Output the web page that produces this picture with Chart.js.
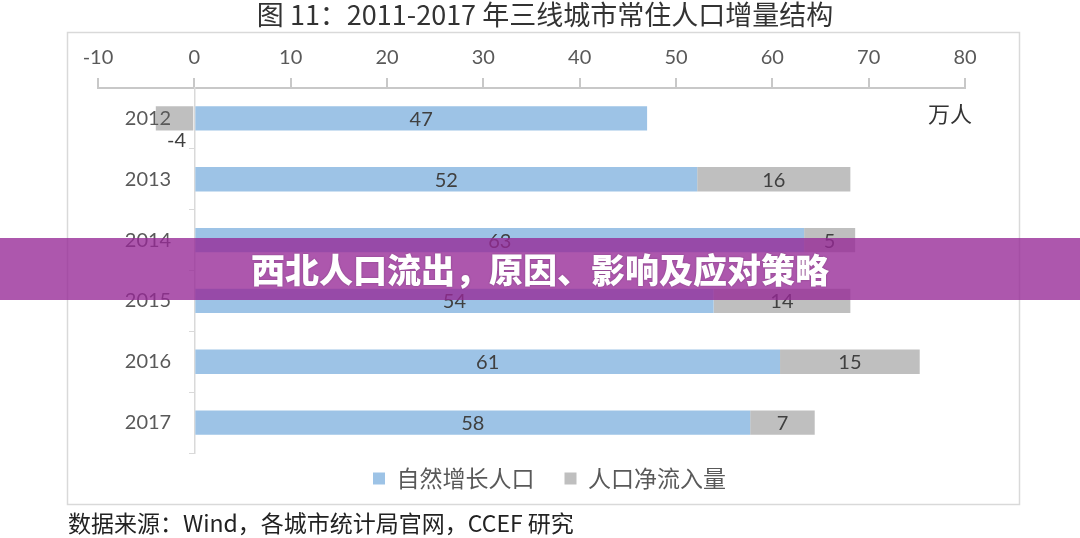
<!DOCTYPE html>
<html lang="zh">
<head>
    <meta charset="UTF-8">
    <title>三线城市常住人口增量结构</title>
    <script src="https://cdn.jsdelivr.net/npm/chart.js"></script>
    <style>
        html, body { margin: 0; padding: 0; background: #fff; }
        #wrap { width: 1080px; height: 538px; }
    </style>
</head>
<body>
    <div id="wrap"><canvas id="chart" width="1080" height="538"></canvas></div>

    <script>
        // 数据（万人，从图上读取）
        const years = ['2012', '2013', '2014', '2015', '2016', '2017'];
        const naturalGrowth = [47, 52.2, 63.3, 53.9, 60.8, 57.7];
        const netInflow = [-4, 15.9, 5.3, 14.2, 14.5, 6.7];
        const xTicks = [-10, 0, 10, 20, 30, 40, 50, 60, 70, 80];

        const NUM_FONT = "Lato, 'Noto Sans CJK SC', sans-serif";
        const CJK_FONT = "'Noto Sans CJK SC', 'Noto Sans', sans-serif";

        // 柱内数值标签
        const barLabels = {
            id: 'barLabels',
            afterDatasetsDraw(chart) {
                const ctx = chart.ctx;
                ctx.save();
                ctx.font = '20px ' + NUM_FONT;
                ctx.fillStyle = '#404040';
                ctx.textAlign = 'center';
                ctx.textBaseline = 'middle';
                chart.data.datasets.forEach((ds, i) => {
                    chart.getDatasetMeta(i).data.forEach((bar, j) => {
                        const txt = String(Math.round(ds.data[j]));
                        const w = Math.abs(bar.x - bar.base);
                        const cx = (bar.x + bar.base) / 2;
                        if (w < ctx.measureText(txt).width + 24) {
                            // 放不下时放到柱子下方
                            ctx.fillText(txt, cx + 2, bar.y + bar.height / 2 + 10);
                        } else {
                            ctx.fillText(txt, cx, bar.y + 1);
                        }
                    });
                });
                ctx.restore();
            }
        };

        // 边框、标题、单位、来源、横幅
        const decor = {
            id: 'decor',
            beforeDraw(chart) {
                const ctx = chart.ctx;
                ctx.save();
                ctx.fillStyle = '#fff';
                ctx.fillRect(0, 0, chart.width, chart.height);
                ctx.strokeStyle = '#d9d9d9';
                ctx.lineWidth = 1.5;
                ctx.strokeRect(67.5, 32.5, 952, 472);
                ctx.restore();
            },
            afterLayout(chart) {
                // 图例位置微调
                const lg = chart.legend;
                const dy = 437 - lg.top;
                lg.top += dy; lg.bottom += dy;
                lg.left += 18; lg.right += 18;
            },
            afterDraw(chart) {
                const ctx = chart.ctx;
                ctx.save();
                ctx.textBaseline = 'middle';
                ctx.fillStyle = '#333';
                ctx.textAlign = 'center';
                ctx.font = '27px ' + CJK_FONT;
                ctx.fillText('图 11：2011-2017 年三线城市常住人口增量结构', 545, 15);

                ctx.textAlign = 'left';
                ctx.font = '22px ' + CJK_FONT;
                ctx.fillText('万人', 928, 114);

                ctx.fillStyle = '#222';
                ctx.font = '23px ' + CJK_FONT;
                ctx.fillText('数据来源：Wind，各城市统计局官网，CCEF 研究', 68, 523);

                ctx.fillStyle = 'rgba(150, 40, 150, 0.78)';
                ctx.fillRect(0, 238, chart.width, 62);
                ctx.fillStyle = '#fff';
                ctx.textAlign = 'center';
                ctx.font = '900 34px ' + CJK_FONT;
                ctx.shadowColor = 'rgba(0,0,0,0.25)';
                ctx.shadowBlur = 2;
                ctx.fillText('西北人口流出，原因、影响及应对策略', 540, 270);
                ctx.restore();
            }
        };

        new Chart(document.getElementById('chart'), {
            type: 'bar',
            data: {
                labels: years,
                datasets: [
                    {
                        label: '自然增长人口',
                        data: naturalGrowth,
                        backgroundColor: '#9dc3e6',
                        barPercentage: 1,
                        categoryPercentage: 0.4
                    },
                    {
                        label: '人口净流入量',
                        data: netInflow,
                        backgroundColor: '#bfbfbf',
                        barPercentage: 1,
                        categoryPercentage: 0.4
                    }
                ]
            },
            options: {
                indexAxis: 'y',
                responsive: false,
                animation: false,
                devicePixelRatio: 1,
                layout: { padding: { left: 98, right: 115, top: 38, bottom: 22 } },
                plugins: {
                    title: { display: false },
                    tooltip: { enabled: false },
                    legend: {
                        position: 'bottom',
                        labels: {
                            boxWidth: 12,
                            boxHeight: 12,
                            padding: 30,
                            color: '#595959',
                            font: { family: CJK_FONT, size: 23 }
                        }
                    }
                },
                scales: {
                    x: {
                        position: 'top',
                        stacked: true,
                        min: -10,
                        max: 80,
                        afterBuildTicks: (scale) => {
                            scale.ticks = xTicks.map(v => ({ value: v }));
                        },
                        afterFit: (scale) => { scale.height = 50; },
                        grid: {
                            drawOnChartArea: false,
                            tickLength: 10,
                            color: '#c8c8c8',
                            lineWidth: 2
                        },
                        border: { color: '#c8c8c8', width: 2 },
                        ticks: {
                            padding: 8,
                            color: '#595959',
                            font: { family: NUM_FONT, size: 20 }
                        }
                    },
                    // 纵轴线与刻度，位于 0 处
                    y: {
                        position: { x: 0 },
                        stacked: true,
                        grid: {
                            offset: true,
                            drawOnChartArea: false,
                            tickLength: 5,
                            color: '#d9d9d9'
                        },
                        border: { color: '#d9d9d9', width: 1.5 },
                        ticks: { display: false }
                    },
                    // 年份标签，画在柱子上层
                    yLabels: {
                        type: 'category',
                        axis: 'y',
                        position: { x: -2.4 },
                        offset: true,
                        grid: { display: false },
                        border: { display: false },
                        ticks: {
                            z: 1,
                            padding: 0,
                            color: '#595959',
                            font: { family: NUM_FONT, size: 20 }
                        }
                    }
                }
            },
            plugins: [decor, barLabels]
        });
    </script>
</body>
</html>
